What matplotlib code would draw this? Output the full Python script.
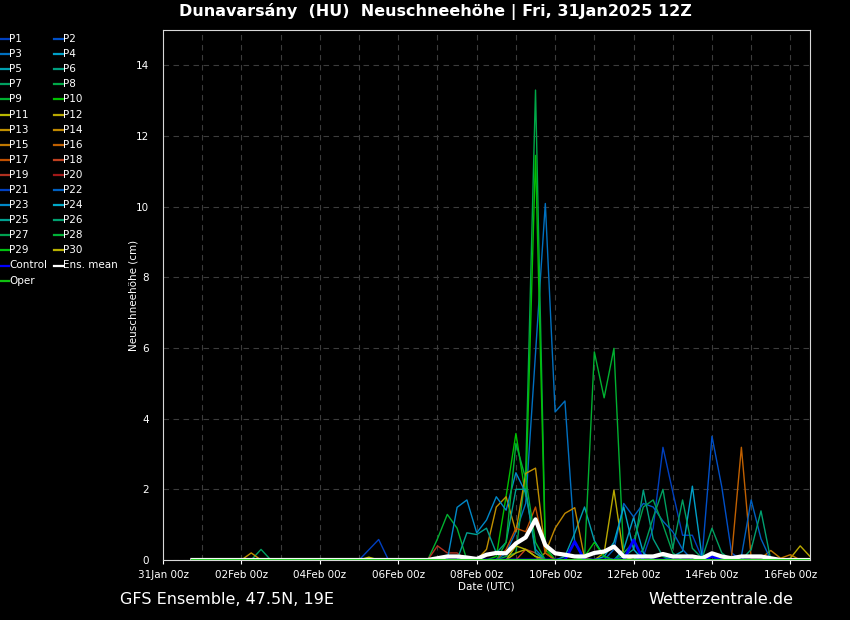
import numpy as np
import pandas as pd
import matplotlib
matplotlib.use("Agg")
import matplotlib.pyplot as plt
import matplotlib.dates as mdates
from matplotlib.lines import Line2D

# 6-hourly forecast steps: 31Jan 18Z ... 16Feb 12Z
times = pd.date_range("2025-01-31 18:00", periods=64, freq="6h")

# new snow (cm) per member, only the non-zero steps as {step: value}
P01 = {46: 0.1, 47: 0.9, 48: 3.19, 49: 1.93, 50: 0.7, 51: 0.7, 52: 0.05}
P02 = {52: 0.1, 53: 3.5, 54: 2.07, 55: 0.2}
P03 = {32: 0.2, 33: 0.8, 34: 1.6, 35: 5.85, 36: 10.09, 37: 4.19, 38: 4.5, 39: 0.47, 40: 0.05}
P04 = {44: 0.3, 45: 1.2, 46: 0.2, 49: 0.1, 50: 0.25, 51: 2.09, 52: 0.05}
P05 = {38: 0.1, 39: 0.76, 40: 1.5, 41: 0.55, 42: 0.1}
P06 = {44: 0.1, 45: 0.3, 46: 1.98, 47: 0.6, 48: 0.1}
P07 = {7: 0.3, 46: 0.3, 47: 1.2, 48: 2.0, 49: 0.33, 50: 1.7, 51: 0.33, 52: 0.05, 53: 0.9, 54: 0.2}
P08 = {32: 0.1, 33: 0.2, 34: 2.5, 35: 13.3, 36: 0.4}
P09 = {25: 0.6, 26: 1.29, 27: 0.9, 40: 0.05, 41: 5.89, 42: 4.59, 43: 5.99, 44: 0.1}
P10 = {31: 0.1, 32: 1.8, 33: 3.58, 34: 1.8, 35: 11.45, 36: 0.3}
P11 = {18: 0.08, 33: 0.4, 34: 0.3, 35: 0.1}
P12 = {42: 0.2, 43: 1.98, 44: 0.1, 61: 0.05, 62: 0.4, 63: 0.1}
P13 = {6: 0.2, 30: 0.3, 31: 1.5, 32: 1.79, 33: 0.8, 34: 2.45, 35: 2.6, 36: 0.2}
P14 = {36: 0.2, 37: 0.9, 38: 1.32, 39: 1.48, 40: 0.05}
P15 = {58: 0.05, 59: 0.27, 60: 0.05, 61: 0.15}
P16 = {55: 0.1, 56: 3.19, 57: 0.05}
P17 = {32: 0.3, 33: 0.9, 34: 0.8, 35: 1.5, 36: 0.2}
P18 = {34: 0.3, 35: 0.2}
P19 = {25: 0.4, 26: 0.2, 27: 0.2}
P20 = {}
P21 = {18: 0.29, 19: 0.58}
P22 = {43: 0.3, 44: 1.6, 45: 1.22, 46: 1.6, 47: 1.5, 48: 1.1, 49: 0.8, 50: 0.3,
       55: 0.1, 56: 0.1, 57: 1.7, 58: 0.6}
P23 = {27: 1.49, 28: 1.7, 29: 0.77, 30: 1.13, 31: 1.79, 32: 1.41, 33: 2.47, 34: 1.9, 35: 0.3}
P24 = {42: 0.1, 43: 0.5, 44: 1.5, 45: 0.3}
P25 = {28: 0.77, 29: 0.72, 30: 0.9, 31: 0.2, 32: 0.5, 33: 2.0, 34: 2.0, 35: 0.2}
P26 = {57: 0.3, 58: 1.39}
P27 = {44: 0.2, 45: 0.5, 46: 1.5, 47: 1.7, 48: 1.0, 49: 0.2}
P28 = {32: 0.5, 33: 3.3, 34: 2.3, 35: 0.5}
P29 = {40: 0.1, 41: 0.5, 42: 0.1}
P30 = {33: 0.2, 34: 0.3, 35: 0.1}
control = {39: 0.52, 45: 0.57, 53: 0.1, 55: 0.08}
oper = {}
ens_mean = {25: 0.05, 26: 0.1, 27: 0.1, 28: 0.07, 29: 0.03, 30: 0.15, 31: 0.2, 32: 0.19,
            33: 0.47, 34: 0.64, 35: 1.15, 36: 0.42, 37: 0.19, 38: 0.15, 39: 0.1, 40: 0.1,
            41: 0.2, 42: 0.24, 43: 0.38, 44: 0.1, 45: 0.1, 46: 0.1, 47: 0.1, 48: 0.17,
            49: 0.1, 50: 0.1, 51: 0.1, 52: 0.05, 53: 0.19, 54: 0.1, 55: 0.05, 56: 0.1,
            57: 0.1, 58: 0.1, 59: 0.05}

member_data = [P01, P02, P03, P04, P05, P06, P07, P08, P09, P10,
               P11, P12, P13, P14, P15, P16, P17, P18, P19, P20,
               P21, P22, P23, P24, P25, P26, P27, P28, P29, P30]
member_names = [f"P{i}" for i in range(1, 31)]
member_colors = ['#0040c0', '#0050c8', '#0070c0', '#00a0c8', '#00a0b0',
                 '#00a080', '#00a060', '#00a848', '#00b030', '#00c000',
                 '#b8b800', '#b8a800', '#c09000', '#c08800', '#c07800',
                 '#c06000', '#c05000', '#c04020', '#b03020', '#a01818',
                 '#0040c0', '#0060c0', '#0088c8', '#00a8c8', '#00a090',
                 '#00a070', '#00a050', '#00b038', '#00c010', '#b8b000']


def full(steps):
    vals = np.zeros(len(times))
    for k, v in steps.items():
        vals[k] = v
    return vals


fig = plt.figure(figsize=(8.5, 6.2), dpi=100, facecolor='black')
ax = fig.add_axes([163 / 850, 60 / 620, 647 / 850, 530 / 620], facecolor='black')

for data, col in zip(member_data, member_colors):
    ax.plot(times, full(data), color=col, lw=1)
ax.plot(times, full(control), color='#0000ff', lw=2)
ax.plot(times, full(ens_mean), color='white', lw=3)
ax.plot(times, full(oper), color='#20d020', lw=1.5)

ax.set_xlim(pd.Timestamp("2025-01-31 00:00"), pd.Timestamp("2025-02-16 12:00"))
ax.set_ylim(0, 15)
ax.set_yticks(np.arange(0, 15, 2))
ax.xaxis.set_major_locator(mdates.DayLocator(bymonthday=[31, 2, 4, 6, 8, 10, 12, 14, 16]))
ax.xaxis.set_minor_locator(mdates.DayLocator())
ax.xaxis.set_major_formatter(mdates.DateFormatter('%d%b %Hz'))

ax.grid(which='both', color='#3c3c3c', linestyle=(0, (5, 4)), lw=0.8)
ax.tick_params(axis='y', colors='white', labelsize=7.5, length=0, pad=10)
ax.tick_params(axis='x', which='major', colors='white', labelsize=7.5, length=3, pad=4)
ax.tick_params(axis='x', which='minor', length=0)
for s in ax.spines.values():
    s.set_color('#d8d8d8')

ax.set_ylabel('Neuschneehöhe (cm)', color='white', fontsize=7.5, labelpad=-2)
ax.set_xlabel('Date (UTC)', color='white', fontsize=7.5, labelpad=1)

fig.text(0.512, 0.981, 'Dunavarsány  (HU)  Neuschneehöhe | Fri, 31Jan2025 12Z',
         color='white', fontsize=11.5, fontweight='bold', ha='center', va='center')
fig.text(120 / 850, 1 - 599 / 620, 'GFS Ensemble, 47.5N, 19E', color='white',
         fontsize=11.5, ha='left', va='center')
fig.text(793 / 850, 1 - 599 / 620, 'Wetterzentrale.de', color='white',
         fontsize=11.5, ha='right', va='center')

# legend in two columns at the left edge
labels = member_names + ['Control', 'Ens. mean', 'Oper']
colors = member_colors + ['#0000ff', 'white', '#10c010']
for i, (lab, col) in enumerate(zip(labels, colors)):
    row, c = divmod(i, 2)
    y = 1 - (39 + 15.1 * row) / 620
    x0 = 0 if c == 0 else 54 / 850
    fig.add_artist(Line2D([x0, x0 + 9 / 850], [y, y], color=col, lw=1.6))
    fig.text(x0 + 9 / 850, y, lab, color='white', fontsize=7.5, ha='left', va='center')

fig.savefig('out.png', dpi=100, facecolor='black')
